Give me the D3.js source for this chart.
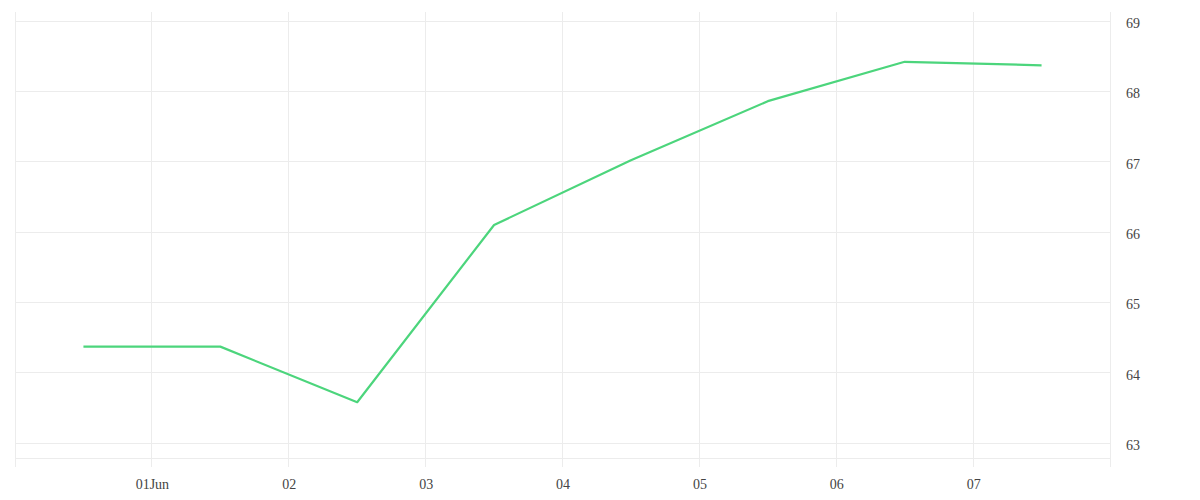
<!DOCTYPE html>
<html>
<head>
<meta charset="utf-8">
<script src="https://cdn.jsdelivr.net/npm/d3@7"></script>
<style>
html,body{margin:0;padding:0;background:#fff;}
svg{display:block;}
</style>
</head>
<body>
<svg id="chart" width="1200" height="500"></svg>
<script>
const dates = ["2024-05-31T12:00","2024-06-01T12:00","2024-06-02T12:00","2024-06-03T12:00","2024-06-04T12:00","2024-06-05T12:00","2024-06-06T12:00","2024-06-07T12:00"];
const values = [64.37, 64.37, 63.58, 66.10, 67.02, 67.86, 68.42, 68.37];
const yTicks = [63, 64, 65, 66, 67, 68, 69];
const xTickDates = ["2024-06-01","2024-06-02","2024-06-03","2024-06-04","2024-06-05","2024-06-06","2024-06-07"];
const xTickLabels = ["01Jun","02","03","04","05","06","07"];
const xDomain = ["2024-05-31","2024-06-08"];

const parse = d3.timeParse("%Y-%m-%dT%H:%M");
const parseDay = d3.timeParse("%Y-%m-%d");
const data = dates.map((d,i)=>({date:parse(d), value:values[i]}));

const svg = d3.select("#chart");
const mLeft = 15, mRight = 1110, mTop = 12, mBottom = 467;
const fontFam = "'Liberation Serif','DejaVu Serif',serif";

const x = d3.scaleTime().domain(xDomain.map(parseDay)).range([mLeft, mRight]);
const y = d3.scaleLinear().domain([63, 69]).range([443, 21]);

const grid = svg.append("g").attr("stroke", "#ececec").attr("stroke-width", 1);
const vLines = [parseDay(xDomain[0])].concat(xTickDates.map(parseDay), [parseDay(xDomain[1])]);
grid.selectAll("line.v").data(vLines).enter().append("line")
  .attr("x1", d=>Math.floor(x(d))+0.5).attr("x2", d=>Math.floor(x(d))+0.5)
  .attr("y1", mTop).attr("y2", mBottom);
grid.selectAll("line.h").data(yTicks).enter().append("line")
  .attr("x1", mLeft).attr("x2", mRight)
  .attr("y1", d=>Math.floor(y(d))+0.5).attr("y2", d=>Math.floor(y(d))+0.5);
grid.append("line").attr("x1", mLeft).attr("x2", mRight).attr("y1", 458.5).attr("y2", 458.5);

const yAxis = d3.axisRight(y).tickValues(yTicks).tickSize(0).tickPadding(16).tickFormat(d3.format("d"));
const gy = svg.append("g").attr("transform", `translate(${mRight},2)`).call(yAxis)
  .attr("font-family", fontFam).attr("font-size", 14);
gy.select(".domain").remove();
gy.selectAll("text").attr("fill", "#444");

const xAxis = d3.axisBottom(x).tickValues(xTickDates.map(parseDay)).tickSize(0).tickPadding(11)
  .tickFormat((d,i)=>xTickLabels[i]);
const gx = svg.append("g").attr("transform", `translate(0,${mBottom+1})`).call(xAxis)
  .attr("font-family", fontFam).attr("font-size", 14);
gx.select(".domain").remove();
gx.selectAll("text").attr("fill", "#444");

const line = d3.line().x(d=>x(d.date)).y(d=>y(d.value));
svg.append("path").datum(data)
  .attr("fill","none").attr("stroke","#4cd57c").attr("stroke-width",2.2)
  .attr("stroke-linejoin","round")
  .attr("d", line);
</script>
</body>
</html>
